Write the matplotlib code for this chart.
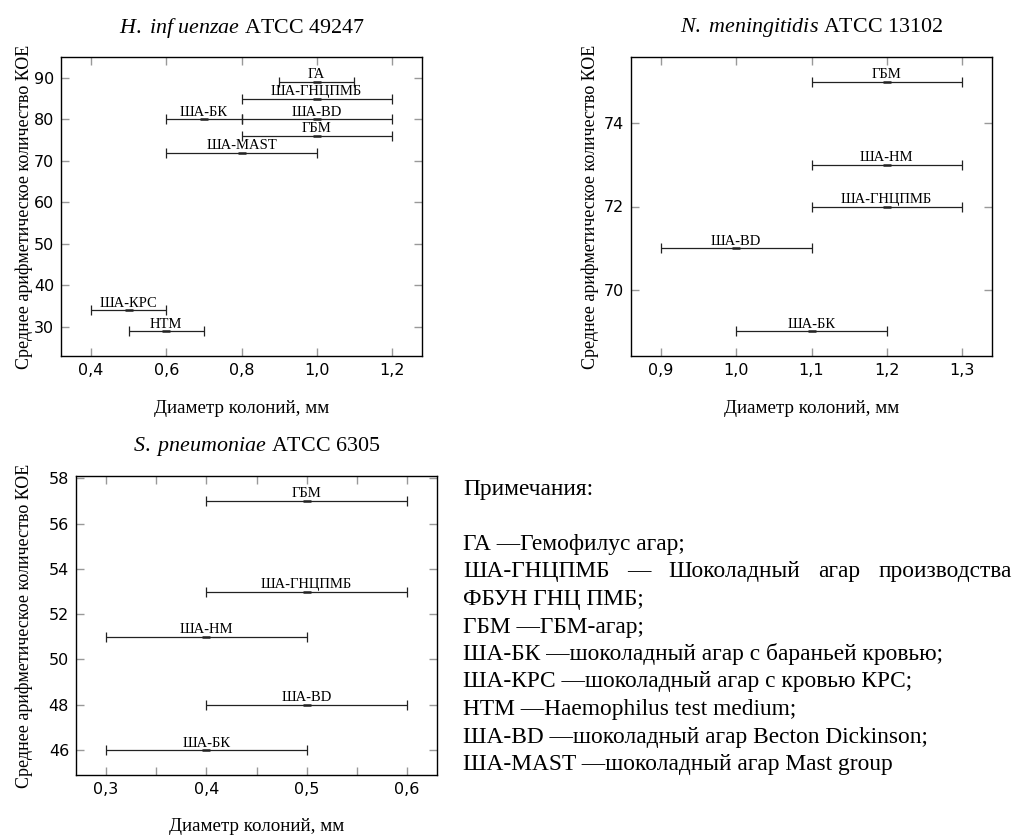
import numpy as np
import matplotlib
matplotlib.use("Agg")
import matplotlib.pyplot as plt
from matplotlib.ticker import FuncFormatter, MultipleLocator

plt.rcParams['mathtext.fontset'] = 'custom'
plt.rcParams['mathtext.rm'] = 'Liberation Serif'
plt.rcParams['mathtext.it'] = 'Liberation Serif:italic'

SERIF = 'Liberation Serif'

# H. influenzae ATCC 49247
hi_labels = ['ГА', 'ША-ГНЦПМБ', 'ША-BD', 'ША-БК', 'ГБМ', 'ША-MAST', 'ША-КРС', 'HTM']
hi_xmin = [0.9, 0.8, 0.8, 0.6, 0.8, 0.6, 0.4, 0.5]
hi_xmax = [1.1, 1.2, 1.2, 0.8, 1.2, 1.0, 0.6, 0.7]
hi_y = [89, 85, 80, 80, 76, 72, 34, 29]

# N. meningitidis ATCC 13102
nm_labels = ['ГБМ', 'ША-НМ', 'ША-ГНЦПМБ', 'ША-BD', 'ША-БК']
nm_xmin = [1.1, 1.1, 1.1, 0.9, 1.0]
nm_xmax = [1.3, 1.3, 1.3, 1.1, 1.2]
nm_y = [75, 73, 72, 71, 69]

# S. pneumoniae ATCC 6305
sp_labels = ['ГБМ', 'ША-ГНЦПМБ', 'ША-НМ', 'ША-BD', 'ША-БК']
sp_xmin = [0.4, 0.4, 0.3, 0.4, 0.3]
sp_xmax = [0.6, 0.6, 0.5, 0.6, 0.5]
sp_y = [57, 53, 51, 48, 46]

notes_title = 'Примечания:'
notes = [
    'ГА —Гемофилус агар;',
    None,  # justified line, drawn separately
    'ФБУН ГНЦ ПМБ;',
    'ГБМ —ГБМ-агар;',
    'ША-БК —шоколадный агар с бараньей кровью;',
    'ША-КРС —шоколадный агар с кровью КРС;',
    'HTM —Haemophilus test medium;',
    'ША-BD —шоколадный агар Becton Dickinson;',
    'ША-MAST —шоколадный агар Mast group',
]
justified_words = ['ША-ГНЦПМБ', '—', 'Шоколадный', 'агар', 'производства']

W, H = 1015, 835
fig = plt.figure(figsize=(W / 100, H / 100), dpi=100)


def comma(v, pos):
    return f"{v:.1f}".replace('.', ',')


def panel(rect, title, labels, xmin, xmax, y, xlim, ylim, xmajor, xminor, ymajor,
          ylab_x, xlab_y):
    ax = fig.add_axes(rect)
    xmin = np.array(xmin)
    xmax = np.array(xmax)
    xc = (xmin + xmax) / 2
    half = (xmax - xmin) / 2
    ax.errorbar(xc, y, xerr=half, fmt='none', ecolor='#222222', elinewidth=0.9,
                capsize=3.5, capthick=0.9)
    ax.plot(xc, y, ls='none', marker='_', ms=6, mew=1.8, color='#222222')
    for lab, xx, yy in zip(labels, xc, y):
        ax.annotate(lab, (xx, yy), xytext=(0, 2.5), textcoords='offset points',
                    ha='center', va='baseline', fontsize=10.5, family=SERIF)
    ax.set_xlim(*xlim)
    ax.set_ylim(*ylim)
    ax.xaxis.set_major_locator(MultipleLocator(xmajor))
    if xminor:
        ax.xaxis.set_minor_locator(MultipleLocator(xminor))
    ax.yaxis.set_major_locator(MultipleLocator(ymajor))
    ax.xaxis.set_major_formatter(FuncFormatter(comma))
    ax.tick_params(which='both', direction='in', top=True, right=True, length=6,
                   width=1, color='#999999', labelsize=11.5, pad=5)
    for s in ax.spines.values():
        s.set_linewidth(1.0)
        s.set_color('black')
    ax.set_xlabel('Диаметр колоний, мм', family=SERIF, fontsize=13.7)
    ax.set_ylabel('Среднее арифметическое количество КОЕ', family=SERIF, fontsize=13)
    ax.yaxis.set_label_coords(ylab_x, 0.5)
    ax.xaxis.set_label_coords(0.5, xlab_y)
    ax.text(0.5, 1 + 29 / 299, title, transform=ax.transAxes, ha='center',
            va='center', family=SERIF, fontsize=15.8)
    return ax


panel([61 / W, 1 - 356 / H, 361 / W, 299 / H],
      r'$\mathit{H.\ inf\ uenzae}$ ATCC 49247',
      hi_labels, hi_xmin, hi_xmax, hi_y, (0.32, 1.28), (23, 95), 0.2, None, 10,
      -28 / 361, -44 / 299)
panel([631 / W, 1 - 356 / H, 361 / W, 299 / H],
      r'$\mathit{N.\ meningitidis}$ ATCC 13102',
      nm_labels, nm_xmin, nm_xmax, nm_y, (0.86, 1.34), (68.4, 75.6), 0.1, None, 2,
      -32 / 361, -44 / 299)
panel([76 / W, 1 - 775 / H, 361 / W, 299 / H],
      r'$\mathit{S.\ pneumoniae}$ ATCC 6305',
      sp_labels, sp_xmin, sp_xmax, sp_y, (0.27, 0.63), (44.9, 58.1), 0.1, 0.05, 2,
      -43 / 361, -43 / 299)

# notes block
NOTE_FS = 16.8
x0 = 463
fig.text(x0 / W, 1 - 495 / H, notes_title, family=SERIF, fontsize=NOTE_FS,
         va='baseline', ha='left')
for i, line in enumerate(notes):
    yb = 550 + i * 27.5
    if line is None:
        continue
    fig.text(x0 / W, 1 - yb / H, line, family=SERIF, fontsize=NOTE_FS,
             va='baseline', ha='left')

# justified line
renderer = fig.canvas.get_renderer()
yb = 550 + 27.5
items = [fig.text(0, 1 - yb / H, w, family=SERIF, fontsize=NOTE_FS,
                  va='baseline', ha='left') for w in justified_words]
widths = [t.get_window_extent(renderer).width for t in items]
x1 = 1012
gap = (x1 - x0 - sum(widths)) / (len(items) - 1)
xpos = x0
for t, w in zip(items, widths):
    t.set_x(xpos / W)
    xpos += w + gap

fig.savefig('out.png', dpi=100)
